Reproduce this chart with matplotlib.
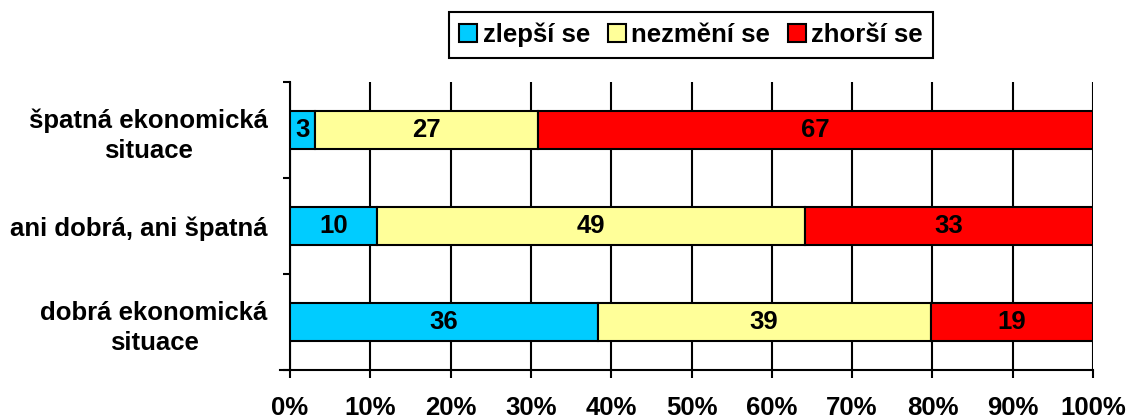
import numpy as np
import matplotlib
matplotlib.use("Agg")
import matplotlib.pyplot as plt

plt.rcParams['font.family'] = ['Liberation Sans', 'DejaVu Sans']
plt.rcParams['font.weight'] = 'bold'

# data
kategorie = ['dobrá ekonomická\nsituace', 'ani dobrá, ani špatná', 'špatná ekonomická\nsituace']
zlepsi = [36, 10, 3]
nezmeni = [39, 49, 27]
zhorsi = [19, 33, 67]
serie = ['zlepší se', 'nezmění se', 'zhorší se']
barvy = ['#00CCFF', '#FFFF99', '#FF0000']

vals = np.array([zlepsi, nezmeni, zhorsi], dtype=float)
podily = vals / vals.sum(axis=0) * 100

fig = plt.figure(figsize=(11.29, 4.19), dpi=100)
ax = fig.add_axes([0.2569, 0.1169, 0.9681 - 0.2569, 0.8043 - 0.1169])

y = np.arange(len(kategorie))
left = np.zeros(len(kategorie))
for i in range(3):
    bars = ax.barh(y, podily[i], left=left, height=0.4, color=barvy[i],
                   edgecolor='black', linewidth=1.5, label=serie[i], zorder=3)
    for j, b in enumerate(bars):
        ax.text(left[j] + podily[i][j] / 2, y[j], str(int(vals[i][j])),
                ha='center', va='center', fontsize=18.5, fontweight='bold', zorder=4)
    left += podily[i]

for s in ['top', 'right']:
    ax.spines[s].set_visible(False)
for s in ['left', 'bottom']:
    ax.spines[s].set_linewidth(1.5)
ax.spines['bottom'].set_position(('data', -0.5))
ax.spines['bottom'].set_bounds(-1.2, 100)

ax.set_xlim(0, 100)
ax.set_ylim(-0.5, 2.5)
ax.set_xticks(np.arange(0, 101, 10))
ax.set_xticklabels([f'{t}%' for t in range(0, 101, 10)])
ax.set_yticks([-0.5, 0.5, 1.5, 2.5])
ax.set_yticklabels([])
ax.set_yticks(y, minor=True)
ax.set_yticklabels(kategorie, minor=True, ha='right', multialignment='center',
                   linespacing=1.35)
ax.tick_params(axis='y', which='minor', length=0, pad=16, labelsize=18.5)
ax.tick_params(axis='y', which='major', length=5, width=1.5)
ax.tick_params(axis='x', length=6, width=1.5, pad=13, labelsize=18.5)
for lb in ax.get_xticklabels() + ax.get_yticklabels(minor=True):
    lb.set_fontweight('bold')
ax.xaxis.grid(True, color='black', linewidth=1.5, zorder=0)

leg = fig.legend(loc='center', bbox_to_anchor=(691 / 1129, 1 - 35 / 419), ncol=3,
                 prop={'size': 18.5, 'weight': 'bold'}, frameon=True, fancybox=False,
                 edgecolor='black', framealpha=1, handlelength=0.7, handleheight=0.7,
                 handletextpad=0.2, columnspacing=0.7, borderpad=0.4)
leg.get_frame().set_linewidth(1.5)

fig.savefig('out.png', dpi=100)
